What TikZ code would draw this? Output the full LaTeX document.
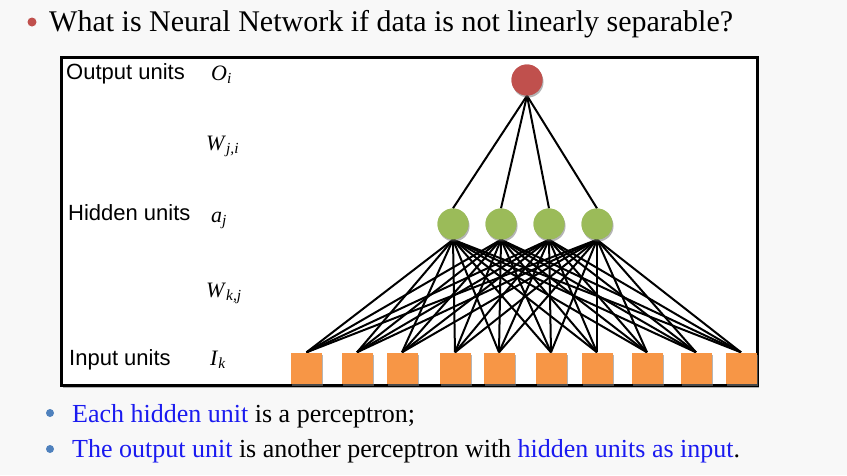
\documentclass[tikz,border=0pt]{standalone}
\usepackage{fontspec}
\setmainfont{Liberation Serif}
\newfontfamily\labelfont{Liberation Sans}
\usetikzlibrary{shadows}
\definecolor{slidebg}{HTML}{F8F8F8}
\definecolor{outred}{HTML}{C0504D}
\definecolor{hidgreen}{HTML}{9BBB59}
\definecolor{inorange}{HTML}{F79646}
\definecolor{dotblue}{HTML}{4F81BD}
\definecolor{textblue}{HTML}{1A1AF0}
\newcommand{\wsub}[2]{\textit{#1}\textsubscript{\textit{#2}}}
\tikzset{
    unitshadow/.style={drop shadow={shadow xshift=1pt,shadow yshift=-2pt,opacity=.35}},
    outunit/.style={circle,fill=outred,minimum size=31pt,inner sep=0pt,unitshadow},
    hidunit/.style={circle,fill=hidgreen,minimum size=31pt,inner sep=0pt,unitshadow},
    inunit/.style={rectangle,fill=inorange,minimum size=31pt,inner sep=0pt,unitshadow},
    unitname/.style={anchor=base west,inner sep=0pt,font=\labelfont\fontsize{22}{26}\selectfont},
    weight/.style={anchor=base west,inner sep=0pt,font=\fontsize{22}{26}\selectfont},
    link/.style={line width=2pt},
    slidetext/.style={anchor=base west,inner sep=0pt},
  }

\begin{document}
\begin{tikzpicture}[x=1pt,y=-1pt]
                                    %fond de la diapo
                                    \fill[slidebg] (0,0) rectangle (847,475);
                                    \useasboundingbox (0,0) rectangle (847,475);
                                    %titre
                                    \fill[outred] (32,22) circle (4.5);
                                    \node[slidetext,font=\fontsize{30}{34}\selectfont] (title) at (49,31) {What is Neural Network if data is not linearly separable?};
                                    %cadre
                                    \draw[line width=3pt,fill=white,drop shadow={shadow xshift=2pt,shadow yshift=-3pt,opacity=.6}] (61,57) rectangle (757,385);
                                    %noms des couches
                                    \node[unitname] (outname) at (66,79) {Output units};
                                    \node[unitname] (hidname) at (68,220) {Hidden units};
                                    \node[unitname] (inname) at (69,365) {Input units};
                                    \node[weight] (Oi) at (211,80) {\wsub{O}{i}};
                                    \node[weight] (Wji) at (206,150) {\wsub{W}{j,i}};
                                    \node[weight] (aj) at (211,222) {\wsub{a}{j}};
                                    \node[weight] (Wkj) at (206,297) {\wsub{W}{k,j}};
                                    \node[weight] (Ik) at (210,365) {\wsub{I}{k}};
                                    %unites
                                    \node[outunit] (out) at (527,80) {};
                                    \foreach \x [count=\j] in {453,501,549,597}
                                      \node[hidunit] (h\j) at (\x,224) {};
                                    \foreach \x [count=\k] in {306.5,357,402,455,499,551,597,647,696,741}
                                      \node[inunit] (in\k) at (\x,368) {};
                                    %liaisons
                                    \foreach \j in {1,...,4}{
                                      \draw [link] (out.south) -- (h\j.north);
                                      \foreach \k in {1,...,10}
                                        \draw [link] (h\j.south) -- (in\k.north);
                                    }
                                    \foreach \j in {1,...,4} \node[hidunit] at (h\j) {};
                                    \foreach \k in {1,...,10} \node[inunit] at (in\k) {};
                                    \node[outunit] at (out) {};
                                    %puces du bas
                                    \fill[dotblue] (50,413) circle (4);
                                    \node[slidetext,font=\fontsize{26}{30}\selectfont] (line1) at (72,422) {\textcolor{textblue}{Each hidden unit} is a perceptron;};
                                    \fill[dotblue] (50,449) circle (4);
                                    \node[slidetext,font=\fontsize{26}{30}\selectfont] (line2) at (72,457) {\textcolor{textblue}{The output unit} is another perceptron with \textcolor{textblue}{hidden units as input}.};
\end{tikzpicture}
\end{document}
